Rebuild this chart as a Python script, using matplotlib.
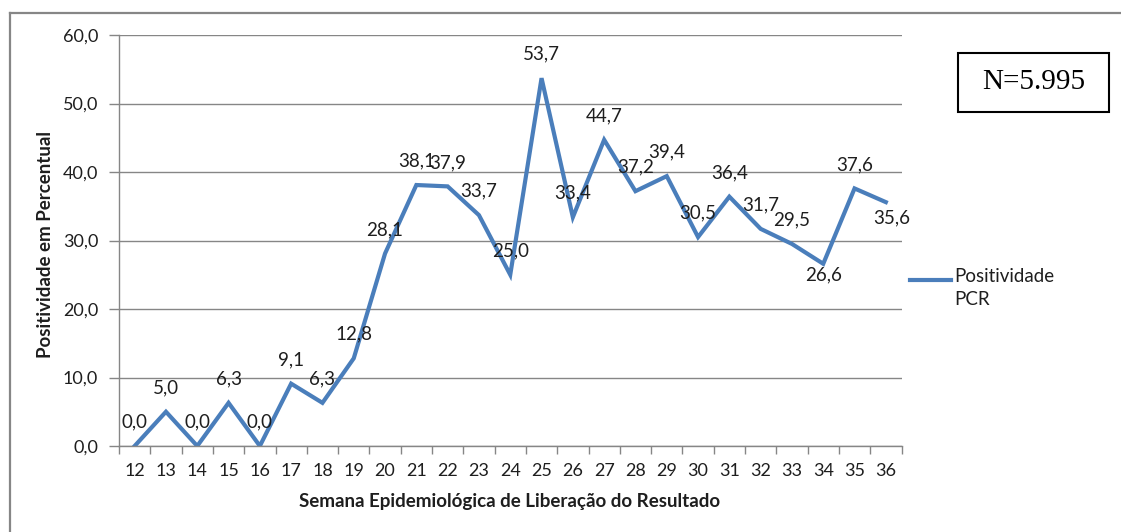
import matplotlib.pyplot as plt
from matplotlib.lines import Line2D
from matplotlib.patches import Rectangle
import numpy as np

plt.rcParams['font.family'] = ['Lato', 'DejaVu Sans']

# Data
semanas = list(range(12, 37))
positividade = [0.0, 5.0, 0.0, 6.3, 0.0, 9.1, 6.3, 12.8, 28.1, 38.1, 37.9, 33.7, 25.0,
                53.7, 33.4, 44.7, 37.2, 39.4, 30.5, 36.4, 31.7, 29.5, 26.6, 37.6, 35.6]
y_ticks = [0, 10, 20, 30, 40, 50, 60]

# label offsets in pixels (dx, dy up); most labels sit above the point
label_offsets = {22: (0, -11), 24: (6, -16)}

W, H = 1121, 532
col_line = '#4A7EBB'
col_grid = '#868686'
col_text = '#1E1E1E'


def px(x, y):
    # pixel (from top-left) -> figure fraction
    return x / W, 1 - y / H


fig = plt.figure(figsize=(W / 100, H / 100), dpi=100)
ax = fig.add_axes([119 / W, 1 - 446 / H, 782.5 / W, 411 / H])

x = np.arange(len(semanas))
ax.plot(x, positividade, color=col_line, linewidth=3.0, solid_joinstyle='miter')

for i, v in enumerate(positividade):
    dx, dy = label_offsets.get(i, (0, 24))
    ax.annotate(f'{v:.1f}'.replace('.', ','), (i, v), xytext=(dx * 0.72, dy * 0.72),
                textcoords='offset points', ha='center', va='center',
                fontsize=13.5, color=col_text)

ax.set_xlim(-0.5, len(semanas) - 0.5)
ax.set_ylim(0, 60)
ax.set_yticks(y_ticks)
ax.set_yticklabels([f'{t:.1f}'.replace('.', ',') for t in y_ticks])
ax.set_xticks(x)
ax.set_xticklabels([str(s) for s in semanas])
ax.set_xticks(np.arange(-0.5, len(semanas), 1), minor=True)

ax.tick_params(axis='x', which='major', length=0, pad=12, labelsize=13, labelcolor=col_text)
ax.tick_params(axis='x', which='minor', length=6, width=1, color=col_grid)
ax.tick_params(axis='y', which='major', length=7, width=1, color=col_grid, pad=8,
               labelsize=13, labelcolor=col_text)

ax.grid(axis='y', color=col_grid, linewidth=1)
ax.grid(axis='x', visible=False)
ax.set_axisbelow(True)
for s in ['top', 'right']:
    ax.spines[s].set_visible(False)
for s in ['left', 'bottom']:
    ax.spines[s].set_color(col_grid)
    ax.spines[s].set_linewidth(1)

# axis titles
fig.text(*px(510, 502), 'Semana Epidemiológica de Liberação do Resultado', ha='center',
         va='center', fontsize=13.5, fontweight='bold', color=col_text)
fig.text(*px(46, 244), 'Positividade em Percentual', ha='center', va='center',
         rotation=90, fontsize=13.5, fontweight='bold', color=col_text)

# legend drawn by hand
x0, y0 = px(910, 280)
x1, _ = px(951, 280)
fig.add_artist(Line2D([x0, x1], [y0, y0], color=col_line, linewidth=3.0))
fig.text(*px(954, 268), 'Positividade\nPCR', ha='left', va='top', fontsize=13.5,
         color=col_text, linespacing=1.4)

# N box
bx, by = px(958, 112)
fig.add_artist(Rectangle((bx, by), 151 / W, 59 / H, facecolor='white', edgecolor='black',
                         linewidth=1.5, transform=fig.transFigure))
fig.text(*px(1033.5, 82), 'N=5.995', ha='center', va='center', fontsize=21,
         family='Liberation Serif', color='black')

# outer frame (left and top edges visible)
lx, ty = px(10, 13)
fig.add_artist(Line2D([lx, lx], [0, ty], color=col_grid, linewidth=1.6))
fig.add_artist(Line2D([lx, 1], [ty, ty], color=col_grid, linewidth=1.6))

fig.savefig('out.png', dpi=100)
